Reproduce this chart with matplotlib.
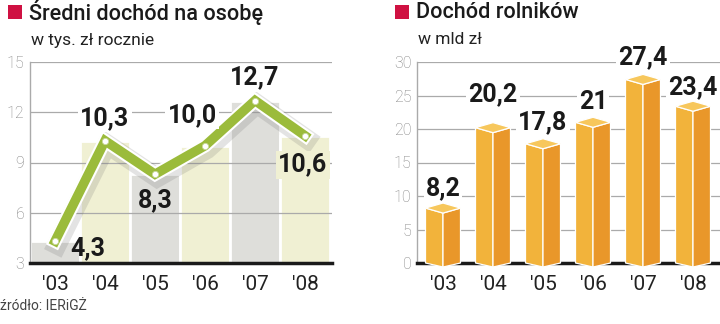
import matplotlib
matplotlib.use("Agg")
import matplotlib.pyplot as plt
import matplotlib.patheffects as pe
from matplotlib.patches import Polygon, Rectangle

plt.rcParams['font.family'] = ['Roboto', 'DejaVu Sans']

# data
years = ["'03", "'04", "'05", "'06", "'07", "'08"]
income_per_person = [4.3, 10.3, 8.3, 10.0, 12.7, 10.6]
farmers_income = [8.2, 20.2, 17.8, 21, 27.4, 23.4]

W, H = 720, 324
fig = plt.figure(figsize=(7.2, 3.24), dpi=100)

RED = '#cf1142'
GRID = '#aaaaaa'
TICK = '#808080'


def px_axes(x0, y0, x1, y1):
    # pixel box (top-left origin) -> figure axes
    return fig.add_axes([x0 / W, 1 - y1 / H, (x1 - x0) / W, (y1 - y0) / H])


def header(x, title, subtitle):
    fig.add_artist(Rectangle((x / W, 1 - 19 / H), 14 / W, 14 / H,
                             transform=fig.transFigure, color=RED, lw=0))
    fig.text((x + 21) / W, 1 - 12 / H, title, fontsize=15.6, fontweight='medium',
             color='#1a1a1a', va='center', ha='left')
    fig.text((x + 23) / W, 1 - 40 / H, subtitle, fontsize=12.5,
             color='#222222', va='center', ha='left')


def style_axes(ax):
    for s in ['top', 'right']:
        ax.spines[s].set_visible(False)
    ax.spines['left'].set_color(GRID)
    ax.spines['left'].set_linewidth(1)
    ax.spines['bottom'].set_color('#1a1a1a')
    ax.spines['bottom'].set_linewidth(2.5)
    ax.spines['bottom'].set_zorder(2.5)
    ax.tick_params(axis='both', length=0)
    ax.tick_params(axis='y', labelcolor=TICK, labelsize=11.5, pad=4)
    ax.tick_params(axis='x', labelcolor='#222222', labelsize=15, pad=9)
    for lab in ax.get_yticklabels():
        lab.set_fontweight('light')
    ax.set_xticks(range(len(years)))
    ax.set_xticklabels(years)
    ax.set_facecolor('none')


# ---------- left chart ----------
header(8, 'Średni dochód na osobę', 'w tys. zł rocznie')
ax1 = px_axes(30, 62, 332, 263)
ax1.set_xlim(-0.5, 5.54)
ax1.set_ylim(3, 15)
ax1.set_yticks([3, 6, 9, 12, 15])
style_axes(ax1)

col_colors = ['#dededa', '#f0f0d3'] * 3
ax1.bar(range(6), [v - 3 for v in income_per_person], bottom=3, width=1.0,
        color=col_colors, edgecolor='white', linewidth=2, zorder=1)
for yv in [6, 9, 12, 15]:
    ax1.axhline(yv, color=GRID, lw=0.9, zorder=1.5)

ax1.plot(range(6), income_per_person, color='#9bbb3b', lw=6.8,
         solid_joinstyle='miter', zorder=4,
         path_effects=[pe.SimpleLineShadow(offset=(1.5, -2.5), shadow_color='#666666',
                                           alpha=0.18, linewidth=14),
                       pe.Stroke(linewidth=9.8, foreground='white'),
                       pe.Normal()])
ax1.plot(range(6), income_per_person, 'o', ms=4.5, mfc='white',
         mec='#c8d89a', mew=0.6, zorder=5)

left_offsets = [(33, -7), (0, 23), (0, -26), (-13, 31), (0, 23), (-2, -29)]
left_boxes = [None, 'white', None, 'white', 'white', '#f0f0d3']
for i, v in enumerate(income_per_person):
    bbox = None
    if left_boxes[i]:
        bbox = dict(facecolor=left_boxes[i], edgecolor='none', pad=1.5)
    ax1.annotate(f'{v:.1f}'.replace('.', ','), (i, v), xytext=left_offsets[i],
                 textcoords='offset pixels', ha='center', va='center',
                 fontsize=18, fontweight='bold', color='#1a1a1a',
                 bbox=bbox, zorder=6)

# ---------- right chart ----------
header(395, 'Dochód rolników', 'w mld zł')
ax2 = px_axes(417, 62, 720, 263)
ax2.set_xlim(-0.52, 5.54)
ax2.set_ylim(0, 30)
ax2.set_yticks([0, 5, 10, 15, 20, 25, 30])
style_axes(ax2)
for yv in [5, 10, 15, 20, 25, 30]:
    ax2.axhline(yv, color=GRID, lw=0.9, zorder=1.5)

hw = 0.35      # half width of bar in x units
dy = 0.75      # depth of top diamond in y units
for i, v in enumerate(farmers_income):
    xl, xc, xr = i - hw, i, i + hw
    left_face = [(xl, v), (xc, v - dy), (xc, -dy * 0.8), (xl, 0)]
    right_face = [(xc, v - dy), (xr, v), (xr, 0), (xc, -dy * 0.8)]
    top_face = [(xl, v), (xc, v + dy), (xr, v), (xc, v - dy)]
    for pts, c in [(left_face, '#f2b33b'), (right_face, '#e9972a'),
                   (top_face, '#f7c75c')]:
        ax2.add_patch(Polygon(pts, closed=True, facecolor=c, edgecolor='white',
                              lw=0.9, zorder=3, clip_on=False))

right_offsets = [20, 33, 22, 20, 22, 19]
for i, v in enumerate(farmers_income):
    ax2.annotate(f'{v:g}'.replace('.', ','), (i, v), xytext=(0, right_offsets[i]),
                 textcoords='offset pixels', ha='center', va='center',
                 fontsize=18, fontweight='bold', color='#1a1a1a',
                 bbox=dict(facecolor='white', edgecolor='none', pad=1.5), zorder=6)

fig.text(0 / W, 1 - 306 / H, 'źródło: IERiGŻ', fontsize=10, color='#444444',
         va='center', ha='left')

fig.savefig('out.png', dpi=100)
